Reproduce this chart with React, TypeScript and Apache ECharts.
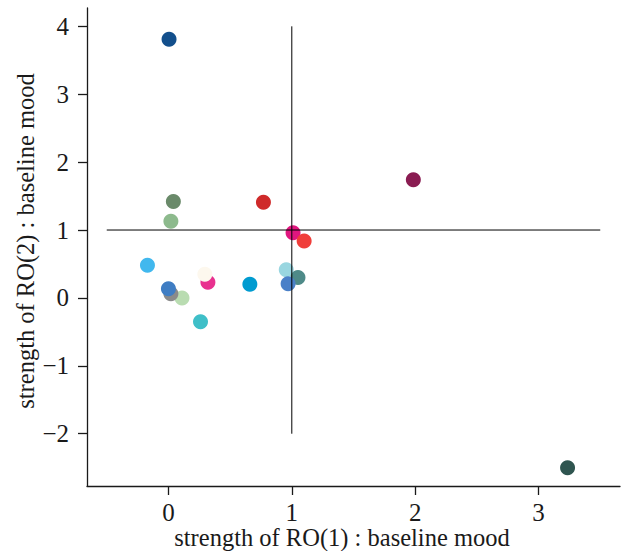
import React, { useEffect, useRef } from "react";
import * as echarts from "echarts";

const xValues = [0.02, 0.11, 0.0, 0.32, 0.295, 0.26, -0.17, 0.66, 0.955, 1.05, 0.97, 0.02, 0.04, 0.77, 1.01, 1.1, 1.985, 0.005, 3.235];
const yValues = [0.06, 0.0, 0.135, 0.23, 0.35, -0.35, 0.48, 0.2, 0.415, 0.3, 0.21, 1.13, 1.42, 1.41, 0.96, 0.84, 1.74, 3.81, -2.5];
const colors = [
  "#8a8a8a", "#b9dcb1", "#3f7dc3", "#e8318f", "#fdf8ee", "#3fbfc8", "#41b8ee", "#009bd0",
  "#99d6e0", "#4e8a88", "#4a80c8", "#8dba8d", "#6a8a6a", "#cf2a2a", "#e0167f", "#f03e3a",
  "#8a1c52", "#134f8c", "#2f5550",
];
// draw order: pale green before gray
const drawOrder = [1, 0, 2, 3, 4, 5, 6, 7, 8, 9, 10, 11, 12, 13, 14, 15, 16, 17, 18];

const xTicks = [0, 1, 2, 3];
const yTicks = [-2, -1, 0, 1, 2, 3, 4];
const vLineX = [1, 1];
const vLineY = [4, -2];
const hLineX = [-0.5, 3.5];
const hLineY = [1, 1];

const FONT = "'Liberation Serif', 'Times New Roman', serif";

const isTick = (v: number, ticks: number[]) => ticks.some((t) => Math.abs(t - v) < 1e-6);
const fmt = (ticks: number[]) => (v: number) => {
  if (!isTick(v, ticks)) return "";
  const r = Math.round(v);
  return r < 0 ? "\u2212" + Math.abs(r) : String(r);
};

export default function App() {
  const ref = useRef<HTMLDivElement>(null);
  useEffect(() => {
    if (!ref.current) return;
    const chart = echarts.init(ref.current, null, { renderer: "svg" });
    const pts = drawOrder.map((i) => ({
      value: [xValues[i], yValues[i]],
      itemStyle: { color: colors[i], opacity: 1 },
    }));
    const lineStyle = { color: "#1a1a1a", width: 1.3 };
    chart.setOption({
      animation: false,
      backgroundColor: "#fff",
      textStyle: { fontFamily: FONT },
      grid: { left: 87, right: 7, top: 8, bottom: 65 },
      xAxis: {
        type: "value",
        min: -0.66,
        max: 3.66,
        splitNumber: 4,
        splitLine: { show: false },
        axisLine: { show: true, onZero: false, lineStyle },
        axisTick: { show: true, length: 9, lineStyle, customValues: xTicks },
        axisLabel: {
          showMinLabel: false,
          showMaxLabel: false,
          formatter: fmt(xTicks),
          fontFamily: FONT,
          fontSize: 25,
          color: "#1a1a1a",
          margin: 14,
        },
      },
      yAxis: {
        type: "value",
        min: -2.77,
        max: 4.27,
        splitNumber: 7,
        splitLine: { show: false },
        axisLine: { show: true, onZero: false, lineStyle },
        axisTick: { show: true, length: 9, lineStyle, customValues: yTicks },
        axisLabel: {
          showMinLabel: false,
          showMaxLabel: false,
          formatter: fmt(yTicks),
          fontFamily: FONT,
          fontSize: 25,
          color: "#1a1a1a",
          margin: 18,
        },
      },
      graphic: [
        {
          type: "text",
          x: 342,
          y: 537,
          style: {
            text: "strength of RO(1) : baseline mood",
            fontFamily: FONT,
            fontSize: 24.5,
            fill: "#1a1a1a",
            align: "center",
            verticalAlign: "middle",
          },
        },
        {
          type: "text",
          x: 25,
          y: 241,
          rotation: Math.PI / 2,
          style: {
            text: "strength of RO(2) : baseline mood",
            fontFamily: FONT,
            fontSize: 24.5,
            fill: "#1a1a1a",
            align: "center",
            verticalAlign: "middle",
          },
        },
      ],
      series: [
        {
          type: "scatter",
          symbolSize: 15,
          data: pts,
          z: 2,
        },
        {
          type: "line",
          data: vLineX.map((x, i) => [x, vLineY[i]]),
          symbol: "none",
          lineStyle: { color: "#000", width: 1 },
          z: 3,
        },
        {
          type: "line",
          data: hLineX.map((x, i) => [x, hLineY[i]]),
          symbol: "none",
          lineStyle: { color: "#000", width: 1 },
          z: 3,
        },
      ],
    });
    return () => chart.dispose();
  }, []);
  return (
    <div
      ref={ref}
      style={{ position: "fixed", left: 0, top: 0, width: 627, height: 551 }}
    />
  );
}
